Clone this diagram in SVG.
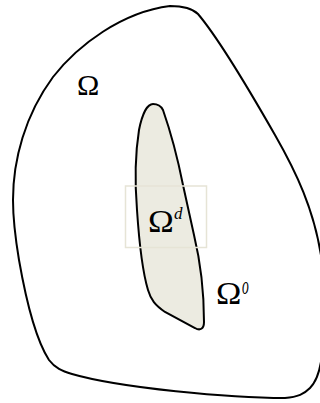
<svg xmlns="http://www.w3.org/2000/svg" width="320" height="403" viewBox="0 0 320 403">
<style>
.edge{fill:none;stroke:#000;stroke-width:2;stroke-linejoin:round}
.lbl{font-family:"Liberation Serif","DejaVu Serif",serif;fill:#000}
.sup{font-family:"Liberation Serif","DejaVu Serif",serif;font-style:italic;fill:#000}
</style>
<rect width="320" height="403" fill="#fff"/>
<g id="omega">
<path class="edge" d="M170,6 C182,6 192,8 198,14 C220,40 255,100 275,135 C295,170 315,210 322,262 L322,355 C320,372 316,382 310,388 C304,394 298,397 285,398 C230,398 120,388 72,374 C62,371 55,368 49,360 C36,340 26,300 19,260 C14,230 13,210 13,200 C13,160 25,115 53,77 C78,45 122,12 170,6 Z"/>
<text class="lbl" x="77" y="95" font-size="30">Ω</text>
</g>
<g id="omega-d">
<path d="M153,104 C147,104 142,115 139,130 C135,155 135,185 137,210 C139,240 142,270 148,290 C151,300 155,305 165,312 L195,328 C200,331 204,329 204,322 C204,290 200,260 194,235 L183,185 C178,160 170,130 163,110 C161,106 158,104 153,104 Z" fill="#ecebe1" stroke="#000" stroke-width="2"/>
<rect x="125.5" y="186" width="81" height="61.5" fill="none" stroke="#e6e4d6" stroke-width="1.5"/>
<text class="lbl" transform="translate(148,232) scale(1.12,1)" font-size="31">Ω</text>
<text class="sup" x="174" y="219" font-size="17">d</text>
</g>
<g id="omega-o">
<text class="lbl" transform="translate(216,304) scale(1.1,1)" font-size="31">Ω</text>
<text class="sup" transform="translate(242,294) scale(0.85,1.6)" font-size="16">o</text>
</g>
<g id="connectors"></g>
</svg>
